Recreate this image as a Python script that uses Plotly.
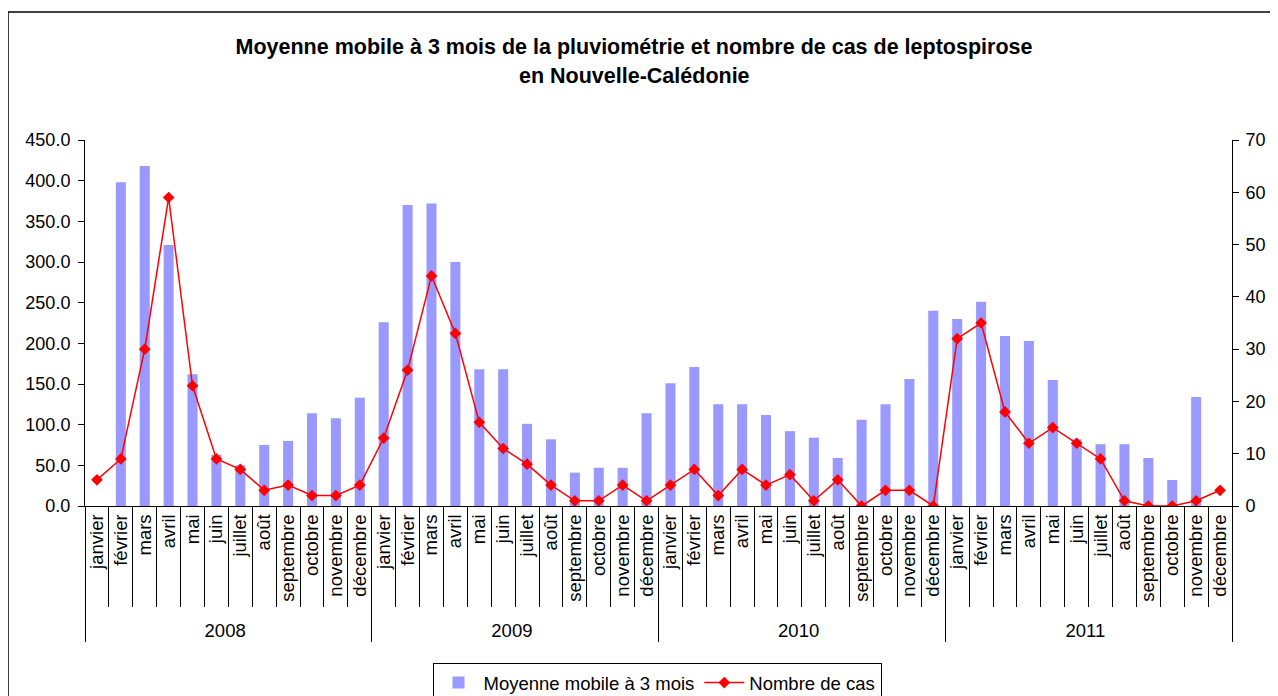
import plotly.graph_objects as go

years = ["2008", "2009", "2010", "2011"]
months = ["janvier", "février", "mars", "avril", "mai", "juin", "juillet",
          "août", "septembre", "octobre", "novembre", "décembre"]

rain_2008 = [None, 398, 418, 321, 162, 63, 50, 75, 80, 114, 108, 133]
rain_2009 = [226, 370, 372, 300, 168, 168, 101, 82, 41, 47, 47, 114]
rain_2010 = [151, 171, 125, 125, 112, 92, 84, 59, 106, 125, 156, 240]
rain_2011 = [230, 251, 209, 203, 155, 82, 76, 76, 59, 32, 134, None]

cases_2008 = [5, 9, 30, 59, 23, 9, 7, 3, 4, 2, 2, 4]
cases_2009 = [13, 26, 44, 33, 16, 11, 8, 4, 1, 1, 4, 1]
cases_2010 = [4, 7, 2, 7, 4, 6, 1, 5, 0, 3, 3, 0]
cases_2011 = [32, 35, 18, 12, 15, 12, 9, 1, 0, 0, 1, 3]

x_years = [y for y in years for _ in months]
x_months = months * len(years)
rain = rain_2008 + rain_2009 + rain_2010 + rain_2011
cases = cases_2008 + cases_2009 + cases_2010 + cases_2011

FONT = "Liberation Sans, Arial, sans-serif"

# page is rendered with an 8px body margin: figure coords = page coords - 8
L, R, T, B = 77, 54, 132, 198
PW, PH = 1278 - L - R, 696 - T - B


def px(xf):
    return (xf - L) / PW


def py(yf):
    return (696 - B - yf) / PH


fig = go.Figure()
fig.add_trace(go.Bar(
    x=[x_years, x_months], y=rain, name="Moyenne mobile à 3 mois",
    marker=dict(color="#9999FF", line=dict(width=0)),
))
fig.add_trace(go.Scatter(
    x=[x_years, x_months], y=cases, name="Nombre de cas", yaxis="y2",
    mode="lines+markers",
    line=dict(color="#FF0000", width=1.5),
    marker=dict(symbol="diamond", size=9, color="#FF0000"),
))

fig.update_layout(
    width=1278, height=696,
    margin=dict(l=L, r=R, t=T, b=B, autoexpand=False),
    paper_bgcolor="white", plot_bgcolor="white",
    font=dict(family=FONT, size=18, color="black"),
    bargap=0.58,
    showlegend=True,
    title=dict(text="<b>Moyenne mobile à 3 mois de la pluviométrie et nombre de cas de leptospirose</b>",
               x=626/1278, xanchor="center", y=1-38/696, yanchor="middle",
               font=dict(family=FONT, size=21.5, color="black")),
    legend=dict(orientation="h", x=px(649), xanchor="center", y=py(655), yanchor="top",
                bordercolor="black", borderwidth=1, bgcolor="white",
                font=dict(family=FONT, size=18.5), itemwidth=40, tracegroupgap=0),
    xaxis=dict(
        type="multicategory", tickangle=-90, showline=True, linecolor="black", linewidth=1,
        ticks="outside", ticklen=100, tickcolor="black", tickson="boundaries",
        showdividers=True, dividercolor="black", dividerwidth=1,
        showgrid=False, tickfont=dict(size=18.5), range=[-0.5, 47.5], automargin=False,
    ),
    yaxis=dict(
        range=[0, 450], dtick=50, tickformat=".1f", showline=True, linecolor="black",
        ticks="outside", ticklen=6, tickcolor="black", showgrid=False, zeroline=False,
        tickfont=dict(size=18), automargin=False, ticklabelstandoff=4,
    ),
    yaxis2=dict(
        range=[0, 70], dtick=10, overlaying="y", side="right", showline=True,
        linecolor="black", ticks="outside", ticklen=6, tickcolor="black",
        showgrid=False, zeroline=False, tickfont=dict(size=18), automargin=False,
        ticklabelstandoff=3,
    ),
    annotations=[dict(text="<b>en Nouvelle-Calédonie</b>", xref="paper", yref="paper",
                      x=px(626), y=py(68), xanchor="center", yanchor="middle",
                      showarrow=False, font=dict(family=FONT, size=21.5, color="black"))],
    shapes=[dict(type="rect", xref="paper", yref="paper",
                 x0=px(0), x1=px(1300), y0=py(720), y1=py(4),
                 line=dict(color="black", width=1.5), fillcolor="rgba(0,0,0,0)", layer="below")],
)

fig.write_html("out.html")
